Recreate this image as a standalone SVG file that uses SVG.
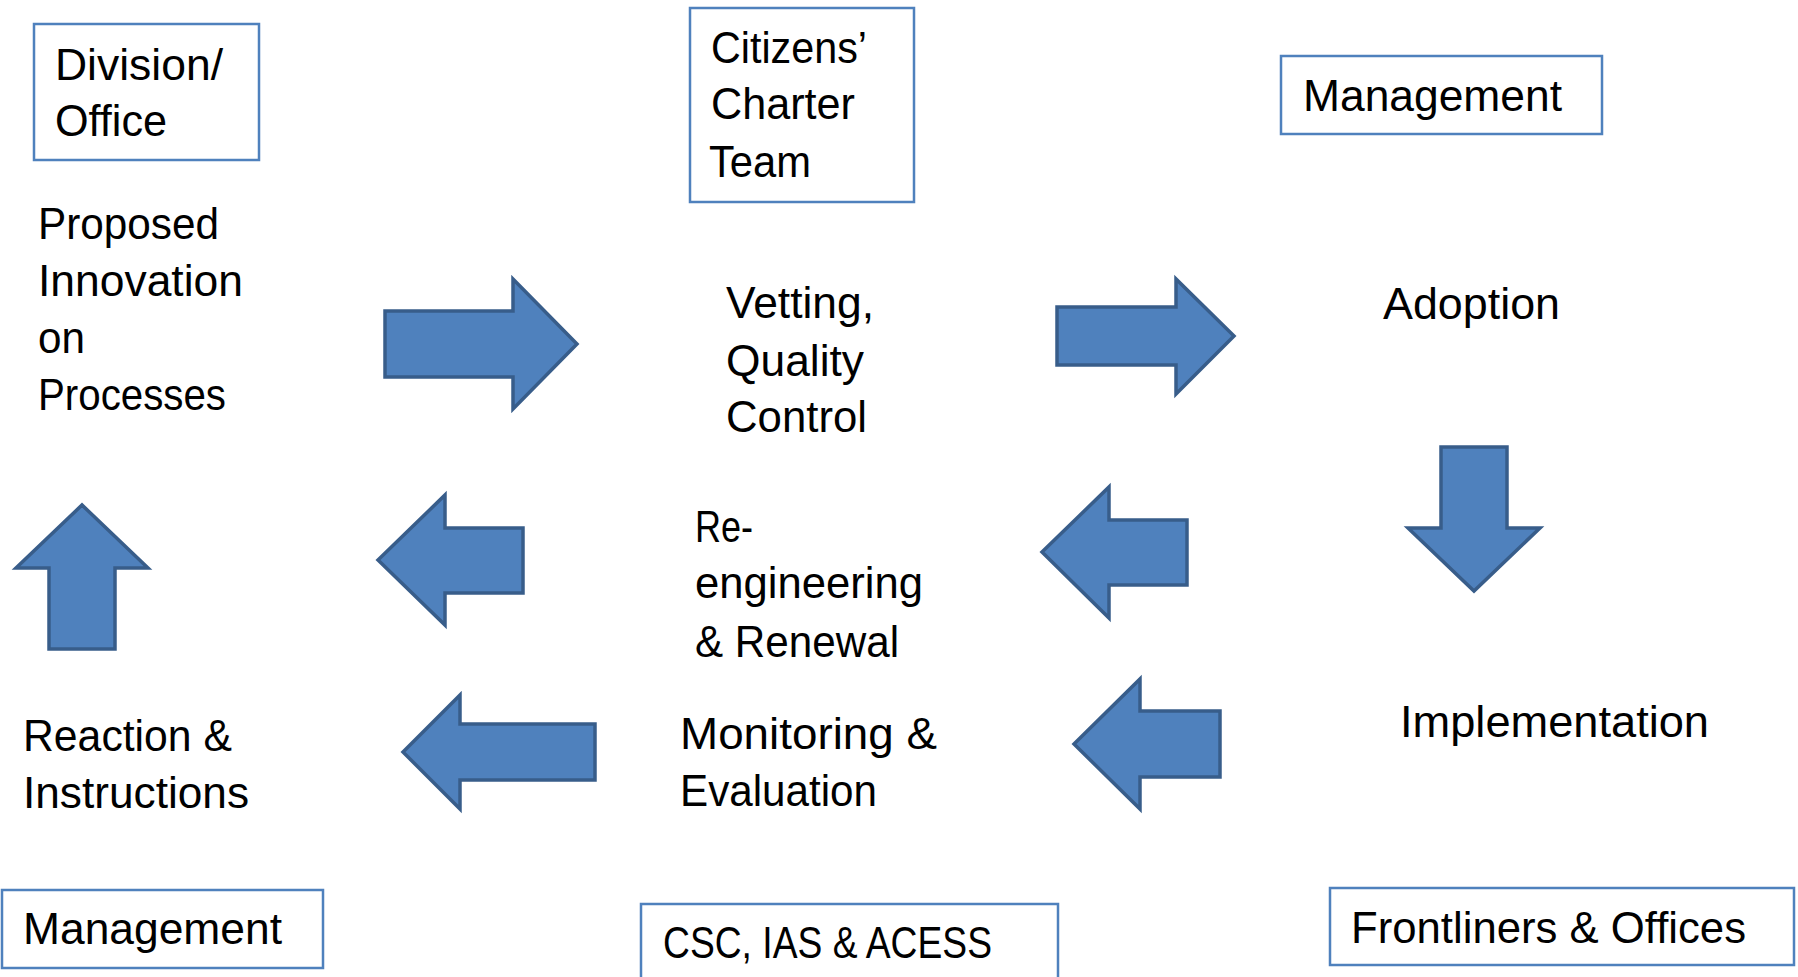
<svg xmlns="http://www.w3.org/2000/svg" width="1798" height="977" viewBox="0 0 1798 977">
<style>
.box{fill:#ffffff;stroke:#4f81bd;stroke-width:2.5}
.t{font-family:"Liberation Sans",Arial,sans-serif;font-size:44px;fill:#000000}
.arr{fill:#4f81bd;stroke:#385d8a;stroke-width:3.5;stroke-linejoin:miter}
</style>
<rect width="1798" height="977" fill="#ffffff"/>
<g id="connectors">
<polygon class="arr" points="385,311 513,311 513,279 577,344 513,409 513,377 385,377"/>
<polygon class="arr" points="1057,307 1176,307 1176,279 1234,336 1176,394 1176,365 1057,365"/>
<polygon class="arr" points="1441,447 1507,447 1507,528 1540,528 1474,591 1408,528 1441,528"/>
<polygon class="arr" points="49,649 49,568 16,568 82,505 148,568 115,568 115,649"/>
<polygon class="arr" points="523,528 445,528 445,495 378,560 445,625 445,593 523,593"/>
<polygon class="arr" points="1187,520 1109,520 1109,487 1042,552 1109,618 1109,585 1187,585"/>
<polygon class="arr" points="595,724 460,724 460,695 403,752 460,809 460,780 595,780"/>
<polygon class="arr" points="1220,711 1140,711 1140,679 1074,744 1140,809 1140,777 1220,777"/>
</g>
<g id="division-office">
<rect class="box" x="34" y="24" width="225" height="136"/>
<text class="t" x="55" y="80" textLength="168" lengthAdjust="spacingAndGlyphs">Division/</text>
<text class="t" x="55" y="136" textLength="112" lengthAdjust="spacingAndGlyphs">Office</text>
</g>
<g id="citizens-charter-team">
<rect class="box" x="690" y="8" width="224" height="194"/>
<text class="t" x="711" y="63" textLength="156" lengthAdjust="spacingAndGlyphs">Citizens’</text>
<text class="t" x="711" y="119" textLength="144" lengthAdjust="spacingAndGlyphs">Charter</text>
<text class="t" x="709" y="177" textLength="102" lengthAdjust="spacingAndGlyphs">Team</text>
</g>
<g id="management-top">
<rect class="box" x="1281" y="56" width="321" height="78"/>
<text class="t" x="1303" y="111" textLength="259" lengthAdjust="spacingAndGlyphs">Management</text>
</g>
<g id="proposed-innovation">
<text class="t" x="38" y="239" textLength="181" lengthAdjust="spacingAndGlyphs">Proposed</text>
<text class="t" x="38" y="296" textLength="205" lengthAdjust="spacingAndGlyphs">Innovation</text>
<text class="t" x="38" y="353" textLength="47" lengthAdjust="spacingAndGlyphs">on</text>
<text class="t" x="38" y="410" textLength="188" lengthAdjust="spacingAndGlyphs">Processes</text>
</g>
<g id="vetting">
<text class="t" x="726" y="318" textLength="148" lengthAdjust="spacingAndGlyphs">Vetting,</text>
<text class="t" x="726" y="376" textLength="138" lengthAdjust="spacingAndGlyphs">Quality</text>
<text class="t" x="726" y="432" textLength="141" lengthAdjust="spacingAndGlyphs">Control</text>
</g>
<g id="adoption">
<text class="t" x="1383" y="319" textLength="177" lengthAdjust="spacingAndGlyphs">Adoption</text>
</g>
<g id="reengineering">
<text class="t" x="695" y="542" textLength="58" lengthAdjust="spacingAndGlyphs">Re-</text>
<text class="t" x="695" y="598" textLength="228" lengthAdjust="spacingAndGlyphs">engineering</text>
<text class="t" x="695" y="657" textLength="204" lengthAdjust="spacingAndGlyphs">&amp; Renewal</text>
</g>
<g id="reaction">
<text class="t" x="23" y="751" textLength="209" lengthAdjust="spacingAndGlyphs">Reaction &amp;</text>
<text class="t" x="23" y="808" textLength="226" lengthAdjust="spacingAndGlyphs">Instructions</text>
</g>
<g id="monitoring">
<text class="t" x="680" y="749" textLength="257" lengthAdjust="spacingAndGlyphs">Monitoring &amp;</text>
<text class="t" x="680" y="806" textLength="197" lengthAdjust="spacingAndGlyphs">Evaluation</text>
</g>
<g id="implementation">
<text class="t" x="1400" y="737" textLength="309" lengthAdjust="spacingAndGlyphs">Implementation</text>
</g>
<g id="management-bottom">
<rect class="box" x="2" y="890" width="321" height="78"/>
<text class="t" x="23" y="944" textLength="259" lengthAdjust="spacingAndGlyphs">Management</text>
</g>
<g id="csc-ias-acess">
<rect class="box" x="641" y="904" width="417" height="90"/>
<text class="t" x="663" y="958" textLength="329" lengthAdjust="spacingAndGlyphs">CSC, IAS &amp; ACESS</text>
</g>
<g id="frontliners-offices">
<rect class="box" x="1330" y="888" width="464" height="77"/>
<text class="t" x="1351" y="943" textLength="395" lengthAdjust="spacingAndGlyphs">Frontliners &amp; Offices</text>
</g>
</svg>
